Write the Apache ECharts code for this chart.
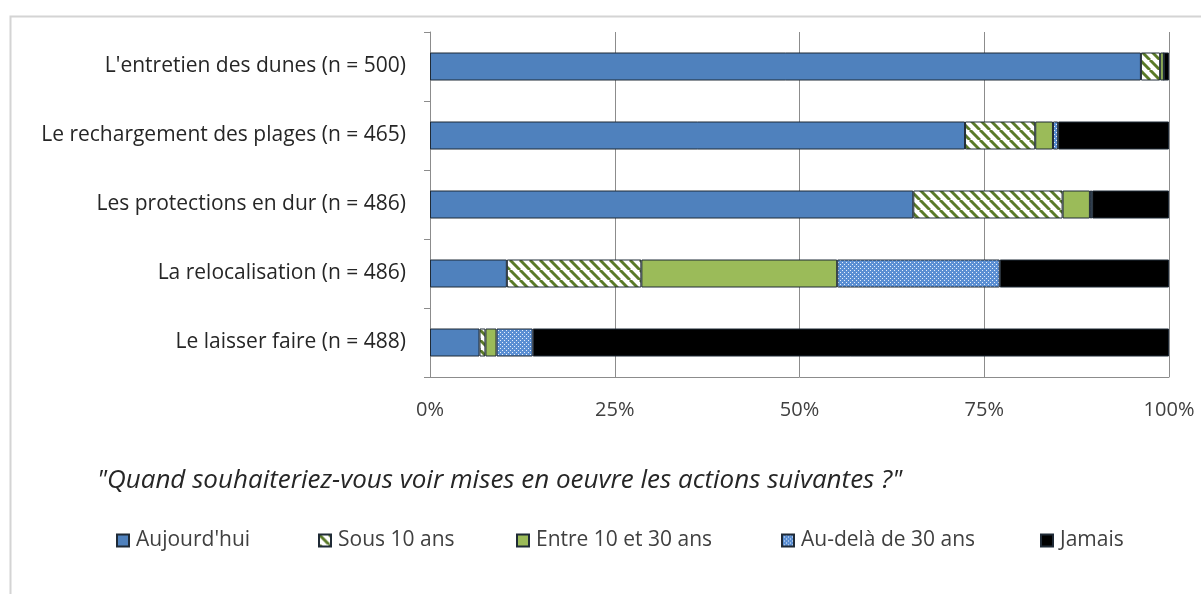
<!DOCTYPE html>
<html style="height: 100%">
<head>
    <meta charset="utf-8">
    <script src="https://cdn.jsdelivr.net/npm/echarts@6/dist/echarts.min.js"></script>
    <title>Quand souhaiteriez-vous voir mises en oeuvre les actions suivantes ?</title>
</head>
<body style="height: 100%; margin: 0; background: #fff">
<div id="container" style="width: 1201px; height: 594px"></div>
<script type="text/javascript">
let categories = [
    "L'entretien des dunes (n = 500)",
    "Le rechargement des plages (n = 465)",
    "Les protections en dur (n = 486)",
    "La relocalisation (n = 486)",
    "Le laisser faire (n = 488)"
]
let seriesNames = ["Aujourd'hui", "Sous 10 ans", "Entre 10 et 30 ans", "Au-delà de 30 ans", "Jamais"]
// percentages
let aujourdhui = [96.2, 72.4, 65.4, 10.4, 6.7]
let sous10 = [2.6, 9.5, 20.2, 18.2, 0.8]
let entre10et30 = [0.5, 2.4, 3.7, 26.5, 1.5]
let audela30 = [0, 0.7, 0.3, 22.0, 4.9]
let jamais = [0.7, 15.0, 10.4, 22.9, 86.1]
let xTicks = [0, 25, 50, 75, 100]

// pattern tiles (hatched and dotted fills like the Excel original)
function hatchTile() {
    let c = document.createElement('canvas')
    c.width = 10; c.height = 10
    let g = c.getContext('2d')
    g.fillStyle = '#ffffff'
    g.fillRect(0, 0, 10, 10)
    g.strokeStyle = '#5a7a28'
    g.lineWidth = 3
    for (let k = -10; k <= 10; k += 10) {
        g.beginPath()
        g.moveTo(k, 0)
        g.lineTo(k + 10, 10)
        g.stroke()
    }
    return c
}
function dotTile() {
    let c = document.createElement('canvas')
    c.width = 4; c.height = 4
    let g = c.getContext('2d')
    g.fillStyle = '#5b8fd3'
    g.fillRect(0, 0, 4, 4)
    g.fillStyle = '#e8f0fb'
    g.fillRect(0, 0, 1, 1)
    g.fillRect(2, 2, 1, 1)
    return c
}

let fills = [
    '#4f81bd',
    {image: hatchTile(), repeat: 'repeat'},
    '#9bbb59',
    {image: dotTile(), repeat: 'repeat'},
    '#000000'
]
let values = [aujourdhui, sous10, entre10et30, audela30, jamais]
let legendLeft = [116, 318, 516, 781, 1040]

let chart = echarts.init(document.getElementById('container'))
chart.setOption({
    animation: false,
    textStyle: {fontFamily: 'Open Sans'},
    title: {
        text: '"Quand souhaiteriez-vous voir mises en oeuvre les actions suivantes ?"',
        left: 92,
        top: 463,
        textStyle: {fontSize: 26, fontStyle: 'italic', fontWeight: 'normal', color: '#262626', fontFamily: 'Open Sans'}
    },
    legend: seriesNames.map((n, i) => ({
        data: [n],
        left: legendLeft[i],
        top: 530,
        padding: 0,
        icon: 'rect',
        itemWidth: 12,
        itemHeight: 12,
        itemGap: 8,
        selectedMode: false,
        textStyle: {fontSize: 21, color: '#404040', padding: [0, 0, 0, 2]}
    })),
    grid: {left: 430, right: 32, top: 32, bottom: 217},
    xAxis: {
        type: 'value',
        min: 0,
        max: 100,
        interval: 25,
        axisLine: {show: true, lineStyle: {color: '#8c8c8c'}},
        axisTick: {show: false},
        splitLine: {lineStyle: {color: '#8c8c8c', width: 1}},
        axisLabel: {
            formatter: v => xTicks.includes(v) ? v + '%' : '',
            fontSize: 20, color: '#404040', margin: 23
        }
    },
    yAxis: {
        type: 'category',
        inverse: true,
        data: categories,
        axisLine: {lineStyle: {color: '#8c8c8c'}},
        axisTick: {show: true, length: 6, lineStyle: {color: '#8c8c8c'}},
        axisLabel: {fontSize: 21, color: '#262626', margin: 24}
    },
    graphic: [{
        type: 'polyline',
        silent: true,
        shape: {points: [[10.5, 594], [10.5, 16.5], [1201, 16.5]]},
        style: {stroke: '#d4d4d4', lineWidth: 2, fill: null}
    }],
    series: seriesNames.map((n, i) => ({
        name: n,
        type: 'bar',
        stack: 'total',
        barWidth: 28,
        data: values[i],
        itemStyle: {color: fills[i], borderColor: '#1f2a36', borderWidth: 1}
    }))
}, true)
</script>
</body>
</html>
